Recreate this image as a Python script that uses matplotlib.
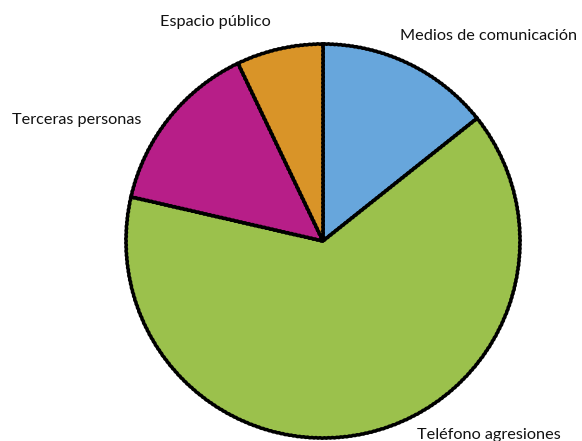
import matplotlib.pyplot as plt

# Share of cases by source
categories = ['Medios de comunicación', 'Teléfono agresiones',
              'Terceras personas', 'Espacio público']
values = [14.3, 64.3, 14.3, 7.1]
colors = ['#67a6dc', '#9bc14c', '#b71e88', '#d99428']

plt.rcParams['font.family'] = ['Lato', 'DejaVu Sans']

W, H = 582, 441
fig = plt.figure(figsize=(W / 100, H / 100), dpi=100)
ax = fig.add_axes([0, 0, 1, 1])

wedges, _ = ax.pie(values, colors=colors, startangle=90, counterclock=False,
                   center=(323, H - 241), radius=197, frame=True,
                   wedgeprops=dict(edgecolor='black', linewidth=2.5,
                                   joinstyle='round'))
for w in wedges:
    # a hint of a hand-drawn outline
    w.set_sketch_params(scale=0.3, length=4, randomness=1)
ax.set_xlim(0, W)
ax.set_ylim(0, H)
ax.set_aspect('equal')
ax.axis('off')

# Labels outside the pie (pixel positions from the top)
label_pos = [(400, 36, 'left'), (417, 435, 'left'),
             (12, 120, 'left'), (215, 22, 'center')]
for name, (x, y, ha) in zip(categories, label_pos):
    ax.text(x, H - y, name, ha=ha, va='center', fontsize=11.7, color='#111111')

fig.savefig('out.png', dpi=100)
